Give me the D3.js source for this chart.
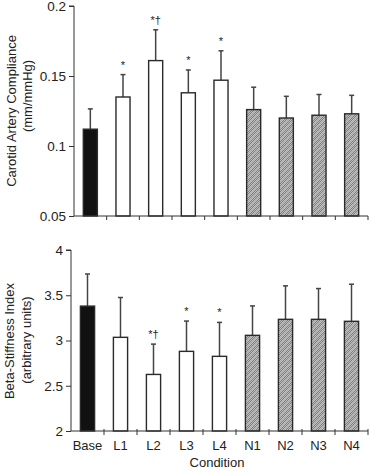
<!DOCTYPE html>
<html><head><meta charset="utf-8">
<script src="https://cdn.jsdelivr.net/npm/d3@7"></script>
<style>body{margin:0;background:#fff}svg{display:block;font-family:"Liberation Sans",Arial,sans-serif}</style>
</head><body>
<script>
const conditions = ["Base","L1","L2","L3","L4","N1","N2","N3","N4"];
const groups = ["base","light","light","light","light","hatch","hatch","hatch","hatch"];
const compliance = [0.112,0.135,0.161,0.138,0.147,0.126,0.120,0.122,0.123];
const complianceSD = [0.0145,0.016,0.022,0.0163,0.021,0.016,0.0155,0.0148,0.0132];
const complianceSig = ["","*","*†","*","*","","","",""];
const beta = [3.38,3.035,2.625,2.88,2.825,3.057,3.234,3.234,3.212];
const betaSD = [0.355,0.44,0.335,0.335,0.375,0.325,0.37,0.34,0.41];
const betaSig = ["","","*†","*","*","","","",""];
const complianceTicks = [0.05,0.1,0.15,0.2];
const betaTicks = [2,2.5,3,3.5,4];

const W=370,H=472;
const svg=d3.select("body").append("svg").attr("width",W).attr("height",H);
const defs=svg.append("defs");
const pat=defs.append("pattern").attr("id","hatch").attr("patternUnits","userSpaceOnUse")
  .attr("width",6).attr("height",6);
pat.append("rect").attr("width",6).attr("height",6).attr("fill","#7e7e7e");
for(let i=0;i<6;i++)for(let j=0;j<6;j++){ if((i+j)%2===0) pat.append("rect").attr("x",i).attr("y",j).attr("width",1).attr("height",1).attr("fill","#bdbdbd"); }
pat.append("path").attr("d","M-1,7 L7,-1 M-4,4 L4,-4 M2,10 L10,2").attr("stroke","#cfcfcf").attr("stroke-width",1).attr("opacity",0.55);

const fills={base:"#111",light:"#fff",hatch:"url(#hatch)"};

function panel(cfg){
  const x=d3.scaleBand().domain(conditions).range([cfg.x0,cfg.x1]).padding(0);
  const y=d3.scaleLinear().domain(cfg.domain).range([cfg.yb,cfg.yt]);
  const g=svg.append("g");
  const bw=x.bandwidth()*0.43;
  const data=conditions.map((c,i)=>({c,v:cfg.vals[i],sd:cfg.sd[i],sig:cfg.sig[i],grp:groups[i]}));
  g.selectAll(".err").data(data).enter().append("g").each(function(d){
    const cx=x(d.c)+x.bandwidth()/2;
    const s=d3.select(this);
    s.append("line").attr("x1",cx).attr("x2",cx).attr("y1",y(d.v)).attr("y2",y(d.v+d.sd)).attr("stroke","#444").attr("stroke-width",1.5);
    s.append("line").attr("x1",cx-2.5).attr("x2",cx+2.5).attr("y1",y(d.v+d.sd)).attr("y2",y(d.v+d.sd)).attr("stroke","#444").attr("stroke-width",1.5);
    if(d.sig) s.append("text").attr("x",cx).attr("y",y(d.v+d.sd)-6).attr("text-anchor","middle").attr("font-size",11).attr("fill","#222").text(d.sig);
  });
  g.selectAll(".bar").data(data).enter().append("rect")
    .attr("x",d=>x(d.c)+(x.bandwidth()-bw)/2).attr("width",bw)
    .attr("y",d=>y(d.v)).attr("height",d=>y(cfg.domain[0])-y(d.v))
    .attr("fill",d=>fills[d.grp]).attr("stroke","#2a2a2a").attr("stroke-width",1.4);
  const ya=g.append("g").attr("transform",`translate(${cfg.x0},0)`)
    .call(d3.axisLeft(y).tickValues(cfg.ticks).tickSize(5).tickPadding(3).tickFormat(d=>String(d)));
  ya.select(".domain").attr("stroke","#333").attr("d",`M-5,${y(cfg.domain[1])}H0V${y(cfg.domain[0])}`);
  ya.selectAll(".tick line").attr("stroke","#333");
  ya.selectAll("text").attr("font-size",13.5).attr("fill","#222").attr("font-family","Liberation Sans, Arial, sans-serif");
  const xa=g.append("g").attr("transform",`translate(0,${cfg.yb})`);
  xa.append("line").attr("x1",cfg.x0).attr("x2",cfg.x1).attr("stroke","#333");
  const bounds=conditions.map(c=>x(c)).concat([cfg.x1]).slice(1);
  xa.selectAll(".tk").data(bounds).enter().append("line")
    .attr("x1",d=>d).attr("x2",d=>d).attr("y1",cfg.tickUp?-2:0).attr("y2",4).attr("stroke","#333");
  if(cfg.labels){
    xa.selectAll(".lb").data(conditions).enter().append("text")
      .attr("x",d=>x(d)+x.bandwidth()/2).attr("y",19).attr("text-anchor","middle")
      .attr("font-size",13).attr("fill","#222").text(d=>d);
  }
  const tg=g.append("g");
  tg.append("text").attr("transform",`translate(${cfg.tx1},${cfg.ty1}) rotate(-90)`).attr("text-anchor","middle").attr("font-size",13).attr("fill","#222").text(cfg.t1);
  tg.append("text").attr("transform",`translate(${cfg.tx2},${cfg.ty2}) rotate(-90)`).attr("text-anchor","middle").attr("font-size",13).attr("fill","#222").text(cfg.t2);
}

panel({x0:74,x1:368,yb:216,yt:6,domain:[0.05,0.2],vals:compliance,sd:complianceSD,sig:complianceSig,ticks:complianceTicks,labels:false,tickUp:false,
  t1:"Carotid Artery Compliance",t2:"(mm/mmHg)",tx1:16,ty1:111,tx2:32,ty2:96});
panel({x0:71,x1:368,yb:431,yt:250,domain:[2,4],vals:beta,sd:betaSD,sig:betaSig,ticks:betaTicks,labels:true,tickUp:true,
  t1:"Beta-Stiffness Index",t2:"(arbitrary units)",tx1:14,ty1:341,tx2:31,ty2:340});

svg.append("text").attr("x",217).attr("y",467).attr("text-anchor","middle").attr("font-size",13).attr("fill","#222").text("Condition");
</script>
</body></html>
